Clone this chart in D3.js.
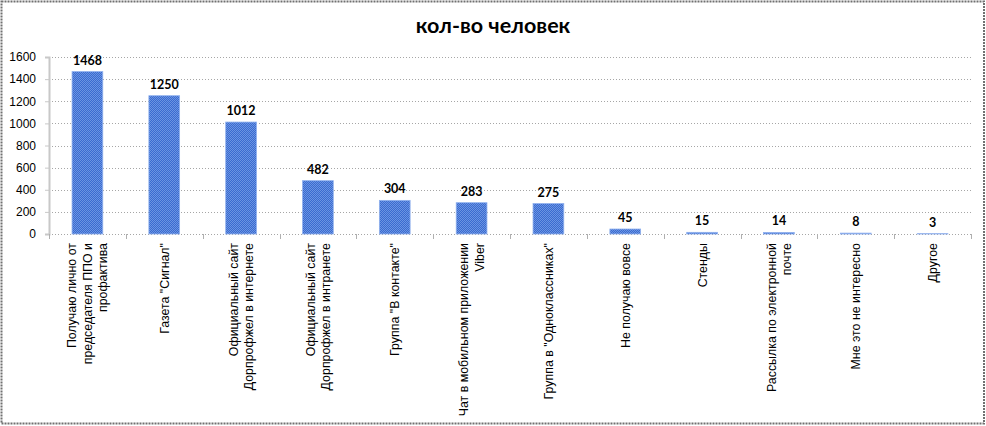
<!DOCTYPE html>
<html>
<head>
<meta charset="utf-8">
<script src="https://cdn.jsdelivr.net/npm/d3@7"></script>
<style>
  body { margin: 0; background: #fff; }
</style>
</head>
<body>
<svg id="chart"></svg>
<script>
// Chart data
const categories = [
    ["Получаю лично от", "председателя ППО и", "профактива"],
    ["Газета \"Сигнал\""],
    ["Официальный сайт", "Дорпрофжел в интернете"],
    ["Официальный сайт", "Дорпрофжел в интранете"],
    ["Группа \"В контакте\""],
    ["Чат в мобильном приложении", "Viber"],
    ["Группа в \"Одноклассниках\""],
    ["Не получаю вовсе"],
    ["Стенды"],
    ["Рассылка по электронной", "почте"],
    ["Мне это не интересно"],
    ["Другое"]
];
const values = [1468, 1250, 1012, 482, 304, 283, 275, 45, 15, 14, 8, 3];
const yTicks = [0, 200, 400, 600, 800, 1000, 1200, 1400, 1600];
const title = "кол-во человек";

const width = 986, height = 426;
const margin = { left: 49, right: 15, top: 57, bottom: 192 };

const svg = d3.select("#chart")
    .attr("width", width)
    .attr("height", height);

// checkered fill like the original bars
const defs = svg.append("defs");
const pat = defs.append("pattern")
    .attr("id", "checker")
    .attr("width", 2).attr("height", 2)
    .attr("patternUnits", "userSpaceOnUse");
pat.append("rect").attr("width", 2).attr("height", 2).attr("fill", "#3a6bd0");
pat.append("rect").attr("width", 1).attr("height", 1).attr("fill", "#6b94e2");
pat.append("rect").attr("x", 1).attr("y", 1).attr("width", 1).attr("height", 1).attr("fill", "#6b94e2");

// outer dotted border
svg.append("rect")
    .attr("x", 1.5).attr("y", 1.5)
    .attr("width", width - 3.5).attr("height", height - 4)
    .attr("fill", "none")
    .attr("stroke", "#707070")
    .attr("stroke-width", 2)
    .attr("stroke-dasharray", "2,1");

const x = d3.scaleBand()
    .domain(d3.range(values.length))
    .range([margin.left, width - margin.right])
    .paddingInner(0.6)
    .paddingOuter(0.3);

const y = d3.scaleLinear()
    .domain([0, 1600])
    .range([height - margin.bottom, margin.top]);

// gridlines
svg.append("g")
    .selectAll("line")
    .data(yTicks)
    .join("line")
    .attr("x1", margin.left)
    .attr("x2", width - margin.right)
    .attr("y1", d => Math.round(y(d)) + 0.5)
    .attr("y2", d => Math.round(y(d)) + 0.5)
    .attr("stroke", "#a6a6a6")
    .attr("stroke-dasharray", "1,2");

// y axis
const yAxis = svg.append("g")
    .attr("transform", `translate(${margin.left},0)`)
    .call(d3.axisLeft(y).tickValues(yTicks).tickFormat(d3.format("d")).tickSize(4).tickPadding(9));
yAxis.select(".domain").attr("stroke", "#c8c8c8").attr("stroke-width", 2);
yAxis.selectAll(".tick line").attr("stroke", "#c8c8c8");
yAxis.selectAll(".tick text")
    .attr("font-family", "'Liberation Sans', Arial, sans-serif")
    .attr("font-size", 12)
    .attr("fill", "#000");

// x axis tick marks between categories
const bounds = d3.range(values.length + 1).map(i => margin.left + i * (width - margin.left - margin.right) / values.length);
svg.append("g")
    .selectAll("line")
    .data(bounds)
    .join("line")
    .attr("x1", d => Math.round(d) + 0.5)
    .attr("x2", d => Math.round(d) + 0.5)
    .attr("y1", y(0))
    .attr("y2", y(0) + 5)
    .attr("stroke", "#b0b0b0");

// bars
svg.append("g")
    .selectAll("rect")
    .data(values)
    .join("rect")
    .attr("x", (d, i) => x(i))
    .attr("y", d => y(d))
    .attr("width", x.bandwidth())
    .attr("height", d => y(0) - y(d))
    .attr("fill", "url(#checker)")
    .attr("stroke", "#8fb0ee")
    .attr("stroke-width", 0.8);

// value labels
svg.append("g")
    .selectAll("text")
    .data(values)
    .join("text")
    .attr("x", (d, i) => x(i) + x.bandwidth() / 2)
    .attr("y", d => y(d) - 7)
    .attr("text-anchor", "middle")
    .attr("font-family", "Lato, 'Open Sans', sans-serif")
    .attr("font-weight", "bold")
    .attr("font-size", 12.5)
    .text(d => d);

// category labels, rotated
const lineH = 15.5;
const catG = svg.append("g")
    .selectAll("text")
    .data(categories)
    .join("text")
    .attr("transform", (d, i) => `translate(${x(i) + x.bandwidth() / 2},243) rotate(-90)`)
    .attr("text-anchor", "end")
    .attr("font-family", "'Liberation Sans', Arial, sans-serif")
    .attr("font-size", 12.4)
    .attr("fill", "#000");
catG.each(function(lines) {
    d3.select(this).selectAll("tspan")
        .data(lines)
        .join("tspan")
        .attr("x", 0)
        .attr("y", (l, j) => (j - (lines.length - 1) / 2) * lineH + 4.5)
        .text(l => l);
});

// title
svg.append("text")
    .attr("x", 493)
    .attr("y", 33)
    .attr("text-anchor", "middle")
    .attr("font-family", "Lato, 'Open Sans', sans-serif")
    .attr("font-weight", "bold")
    .attr("font-size", 21.5)
    .text(title);
</script>
</body>
</html>
